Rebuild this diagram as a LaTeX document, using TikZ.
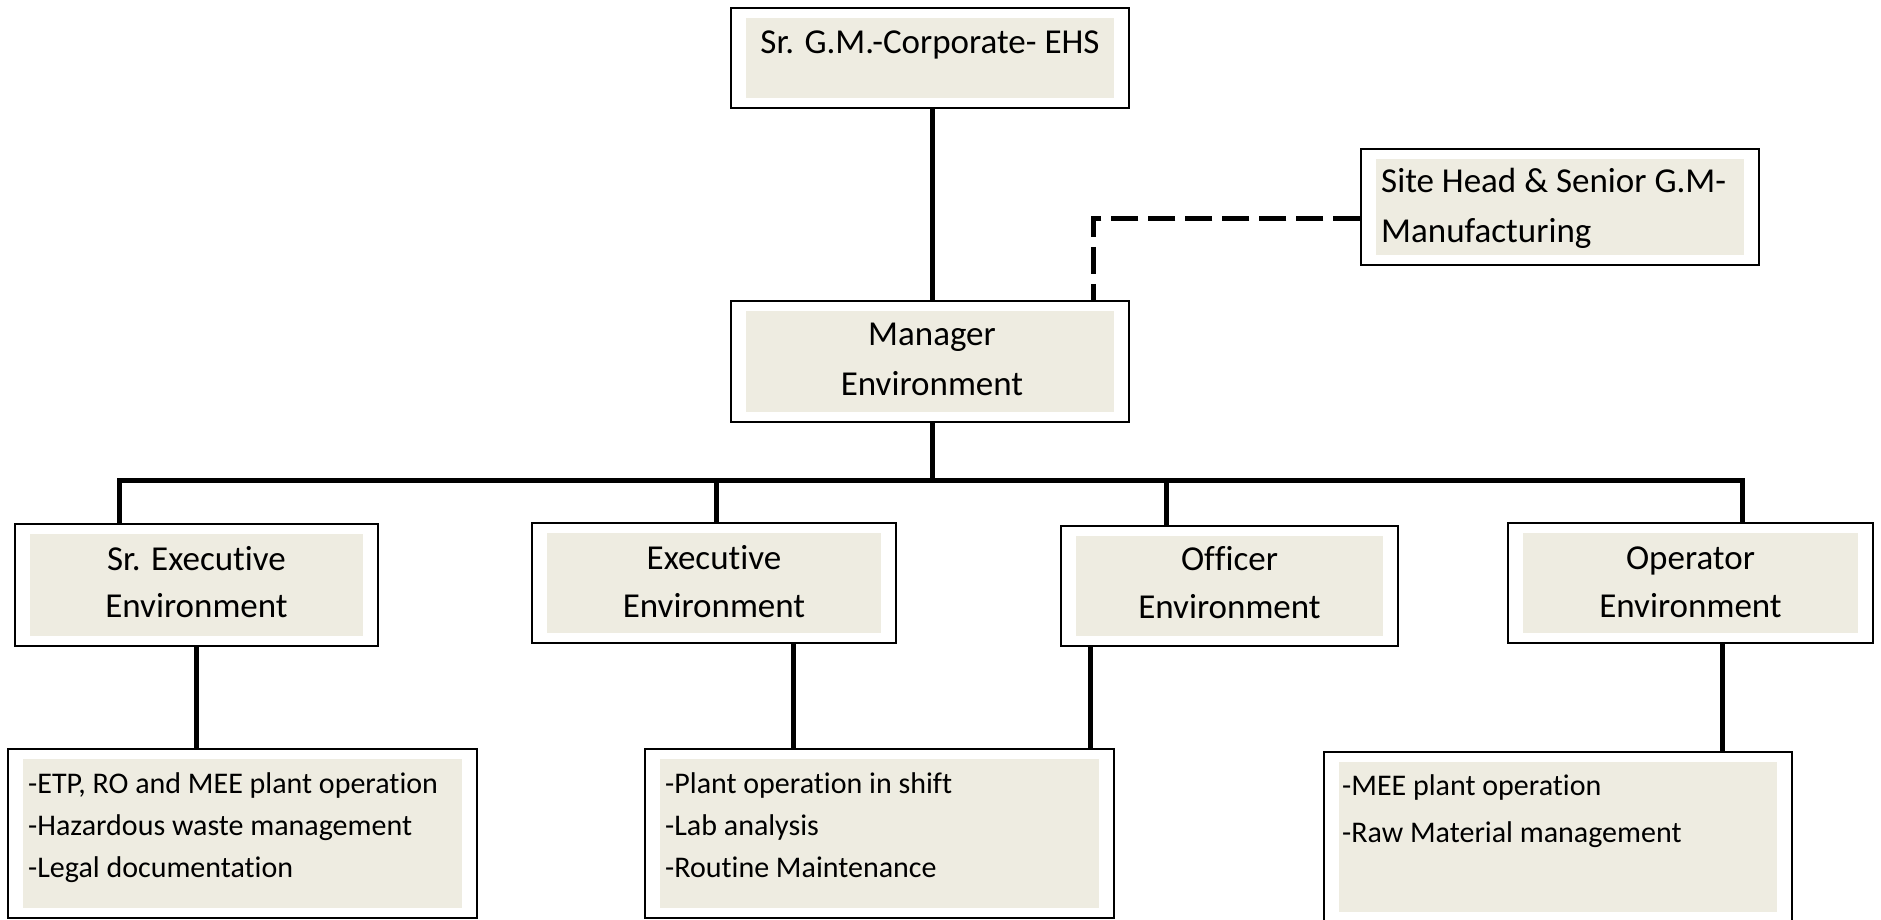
\documentclass[tikz,border=0pt]{standalone}
\usepackage{fontspec}
\setmainfont{Carlito}[Ligatures={NoCommon,NoContextual,NoRare}]
\def\zk{\kern0pt }
\definecolor{bgfill}{HTML}{EEECE1}
\tikzset{
  orgbox/.style 2 args={draw=black, line width=1.5pt, fill=white, inner sep=0pt,
    minimum width=#1, minimum height=#2,
    path picture={\fill[bgfill] ([shift={(15pt,-10pt)}]path picture bounding box.north west)
      rectangle ([shift={(-15pt,10pt)}]path picture bounding box.south east);}},
  conn/.style={draw=black, line width=5pt, line join=miter},
  dotted link/.style={draw=black, line width=5pt, dash pattern=on 27pt off 10pt},
  bigtxt/.style={inner sep=0pt, font=\fontsize{35}{42}\selectfont},
  smalltxt/.style={inner sep=0pt, font=\fontsize{30}{36}\selectfont, anchor=base west},
}
\begin{document}
\begin{tikzpicture}[x=1pt, y=-1pt]
\useasboundingbox[fill=white] (0,0) rectangle (1881,919);
% boxes
\node[orgbox={398pt}{100pt}] (top) at (930,58) {};
\node[orgbox={398pt}{116pt}] (site) at (1560,207) {};
\node[orgbox={398pt}{121pt}] (mgr) at (930,361.5) {};
\node[orgbox={363pt}{122pt}] (sre) at (196.5,585) {};
\node[orgbox={364pt}{120pt}] (exec) at (714,583) {};
\node[orgbox={337pt}{120pt}] (off) at (1229.5,586) {};
\node[orgbox={365pt}{120pt}] (opr) at (1690.5,583) {};
\node[orgbox={469pt}{169pt}] (bA) at (242.5,833.5) {};
\node[orgbox={469pt}{169pt}] (bB) at (879.5,833.5) {};
\node[orgbox={468pt}{170pt}] (bC) at (1558,837) {};
% texts
\node[bigtxt, anchor=base] (ttop) at (930,53) {Sr. G.M.-Corporate- EHS};
\node[bigtxt, anchor=base west] (tsite1) at (1381,192) {Site Head \& Senior G.M-};
\node[bigtxt, anchor=base west] (tsite2) at (1381,242) {Manufacturing};
\node[bigtxt, anchor=base] (tmgr1) at (932,345) {Manager};
\node[bigtxt, anchor=base] (tmgr2) at (932,395) {Environment};
\node[bigtxt, anchor=base] (tsre1) at (196.5,570) {Sr. Execut\zk ive};
\node[bigtxt, anchor=base] (tsre2) at (196.5,617) {Environment};
\node[bigtxt, anchor=base] (texec1) at (714,569) {Execut\zk ive};
\node[bigtxt, anchor=base] (texec2) at (714,617) {Environment};
\node[bigtxt, anchor=base] (toff1) at (1229.5,570) {Of\zk f\zk icer};
\node[bigtxt, anchor=base] (toff2) at (1229.5,618) {Environment};
\node[bigtxt, anchor=base] (topr1) at (1690.5,569) {Operator};
\node[bigtxt, anchor=base] (topr2) at (1690.5,617) {Environment};
\node[smalltxt] (tA1) at (28,793) {-ETP, RO and MEE plant operat\zk ion};
\node[smalltxt] (tA2) at (28,835) {-Hazardous waste management};
\node[smalltxt] (tA3) at (28,877) {-Legal documentat\zk ion};
\node[smalltxt] (tB1) at (665,793) {-Plant operat\zk ion in shif\zk t};
\node[smalltxt] (tB2) at (665,835) {-Lab analysis};
\node[smalltxt] (tB3) at (665,877) {-Rout\zk ine Maintenance};
\node[smalltxt] (tC1) at (1342,795) {-MEE plant operat\zk ion};
\node[smalltxt] (tC2) at (1342,842) {-Raw Material management};
% connectors
\coordinate (bar) at (932,480);
\draw[conn] ([xshift=2pt]top.south) -- ([xshift=2pt]mgr.north);
\draw[conn] ([xshift=2pt]mgr.south) -- (bar);
\draw[conn] ([xshift=-77.5pt]sre.north) |- (bar) -| ([xshift=51.5pt]opr.north);
\draw[conn] ([xshift=2pt]exec.north) -- ([xshift=2pt]exec.north |- bar);
\draw[conn] ([xshift=-63.5pt]off.north) -- ([xshift=-63.5pt]off.north |- bar);
\draw[conn] (sre.south) -- (sre.south |- bA.north);
\draw[conn] ([xshift=79pt]exec.south) -- ([xshift=79pt]exec.south |- bB.north);
\draw[conn] ([xshift=-139.5pt]off.south) -- ([xshift=-139.5pt]off.south |- bB.north);
\draw[conn] ([xshift=31.5pt]opr.south) -- ([xshift=31.5pt]opr.south |- bC.north);
\draw[dotted link] ([yshift=-11pt]site.west) -| ([xshift=163pt]mgr.north);
\end{tikzpicture}
\end{document}
